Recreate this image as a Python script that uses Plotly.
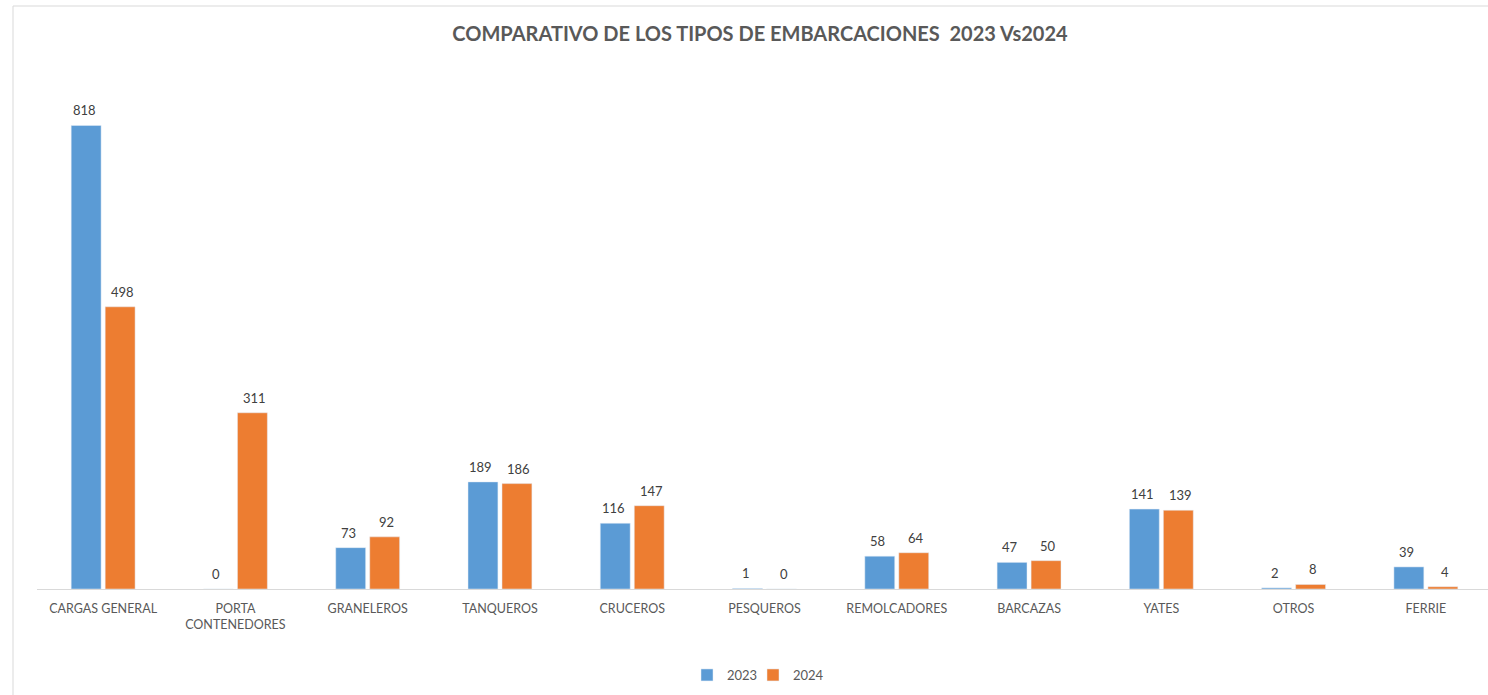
import plotly.graph_objects as go

categories = ["CARGAS GENERAL", "PORTA<br>CONTENEDORES", "GRANELEROS", "TANQUEROS", "CRUCEROS",
              "PESQUEROS", "REMOLCADORES", "BARCAZAS", "YATES", "OTROS", "FERRIE"]
values_2023 = [818, 0, 73, 189, 116, 1, 58, 47, 141, 2, 39]
values_2024 = [498, 311, 92, 186, 147, 0, 64, 50, 139, 8, 4]

W, H = 1488, 695
L, R, T, B = 37, 0, 79, 106
pw, ph = W - L - R, H - T - B

FONT = "Lato, Carlito, Calibri, sans-serif"

fig = go.Figure()
fig.add_trace(go.Bar(name="2023", x=categories, y=values_2023, marker_color="#5B9BD5", legend="legend"))
fig.add_trace(go.Bar(name="2024", x=categories, y=values_2024, marker_color="#ED7D31", legend="legend2"))

# data labels
for vals, dx in ((values_2023, -19), (values_2024, 19)):
    for c, v in zip(categories, vals):
        fig.add_annotation(x=c, y=v, text=str(v), showarrow=False, xshift=dx, yshift=5,
                           yanchor="bottom", font=dict(size=13, color="#404040", family=FONT))

def px_x(x):
    return (x - L) / pw

def px_y(y):
    return (H - B - y) / ph

fig.add_shape(type="rect", xref="paper", yref="paper",
              x0=px_x(13), x1=px_x(1500), y0=px_y(706), y1=px_y(6),
              line=dict(color="#D9D9D9", width=1), fillcolor="rgba(0,0,0,0)", layer="below")

leg_common = dict(orientation="h", xanchor="left", y=px_y(675), yanchor="middle",
                  font=dict(size=13, color="#595959", family=FONT), itemwidth=30,
                  bgcolor="rgba(0,0,0,0)")

fig.update_layout(
    width=W, height=H,
    margin=dict(l=L, r=R, t=T, b=B),
    paper_bgcolor="white", plot_bgcolor="white",
    barmode="group", bargap=0.486, bargroupgap=0.12,
    title=dict(text="<b>COMPARATIVO DE LOS TIPOS DE EMBARCACIONES  2023 Vs2024</b>",
               x=760 / W, xanchor="center", y=1 - 34 / H, yanchor="middle",
               font=dict(size=20, color="#595959", family=FONT)),
    font=dict(family=FONT, color="#595959"),
    legend=dict(x=px_x(687), **leg_common),
    legend2=dict(x=px_x(753), **leg_common),
    xaxis=dict(showline=True, linecolor="#D9D9D9", linewidth=1, ticks="",
               tickfont=dict(size=12.5, color="#595959", family=FONT), ticklabelstandoff=8,
               range=[-0.5, 10.5 - 4 / 132.2], fixedrange=True),
    yaxis=dict(visible=False, range=[0, 900], showgrid=False, zeroline=False),
    showlegend=True,
)

fig.write_html("out.html", config={"displayModeBar": False},
               post_script="document.body.style.margin='0';")
